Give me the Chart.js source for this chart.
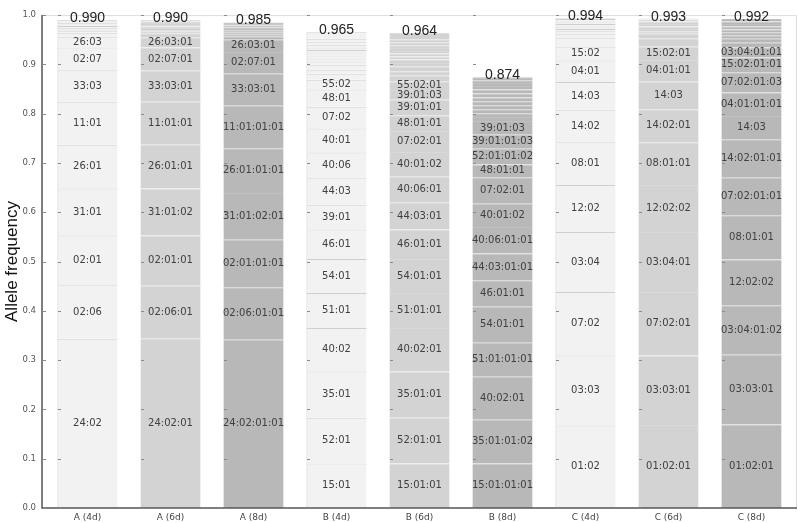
<!DOCTYPE html>
<html>
<head>
<meta charset="utf-8">
<script src="https://cdn.jsdelivr.net/npm/chart.js@4/dist/chart.umd.min.js"></script>
<style>
  html, body { margin: 0; padding: 0; background: #fff; }
  #wrap { width: 798px; height: 523px; }
</style>
</head>
<body>
<div id="wrap"><canvas id="chart"></canvas></div>
<script>
const categories = ["A (4d)", "A (6d)", "A (8d)", "B (4d)", "B (6d)", "B (8d)", "C (4d)", "C (6d)", "C (8d)"]
const totals = ["0.990", "0.990", "0.985", "0.965", "0.964", "0.874", "0.994", "0.993", "0.992"]

// segment frequencies per bar, bottom to top (unlabelled rare alleles at the end)
const a4Values = [0.343, 0.109, 0.101, 0.095, 0.089, 0.087, 0.064, 0.046, 0.021, 0.009, 0.003, 0.004, 0.003, 0.004, 0.003, 0.003, 0.003, 0.003]
const a4Alleles = ["24:02", "02:06", "02:01", "31:01", "26:01", "11:01", "33:03", "02:07", "26:03"]
const a6Values = [0.343, 0.108, 0.102, 0.095, 0.089, 0.087, 0.063, 0.047, 0.021, 0.008, 0.004, 0.003, 0.004, 0.003, 0.003, 0.004, 0.003, 0.003]
const a6Alleles = ["24:02:01", "02:06:01", "02:01:01", "31:01:02", "26:01:01", "11:01:01", "33:03:01", "02:07:01", "26:03:01"]
const a8Values = [0.341, 0.107, 0.096, 0.095, 0.091, 0.086, 0.065, 0.044, 0.025, 0.007, 0.004, 0.004, 0.003, 0.004, 0.003, 0.004, 0.003, 0.003]
const a8Alleles = ["24:02:01:01", "02:06:01:01", "02:01:01:01", "31:01:02:01", "26:01:01:01", "11:01:01:01", "33:03:01", "02:07:01", "26:03:01"]

const b4Values = [0.090, 0.093, 0.094, 0.088, 0.071, 0.069, 0.060, 0.050, 0.054, 0.052, 0.049, 0.044, 0.035, 0.020, 0.012, 0.008, 0.010, 0.007, 0.006, 0.006, 0.006, 0.005, 0.005, 0.006, 0.006, 0.006, 0.013]
const b4Alleles = ["15:01", "52:01", "35:01", "40:02", "51:01", "54:01", "46:01", "39:01", "44:03", "40:06", "40:01", "07:02", "48:01", "55:02"]
const b6Values = [0.090, 0.093, 0.094, 0.088, 0.071, 0.069, 0.060, 0.055, 0.052, 0.050, 0.043, 0.032, 0.031, 0.020, 0.018, 0.011, 0.009, 0.010, 0.007, 0.007, 0.006, 0.006, 0.005, 0.006, 0.006, 0.006, 0.006, 0.013]
const b6Alleles = ["15:01:01", "52:01:01", "35:01:01", "40:02:01", "51:01:01", "54:01:01", "46:01:01", "44:03:01", "40:06:01", "40:01:02", "07:02:01", "48:01:01", "39:01:01", "39:01:03", "55:02:01"]
const b8Values = [0.090, 0.089, 0.087, 0.069, 0.073, 0.054, 0.054, 0.054, 0.047, 0.054, 0.026, 0.032, 0.028, 0.028, 0.008, 0.008, 0.008, 0.008, 0.008, 0.008, 0.008, 0.008, 0.007, 0.006, 0.006, 0.006]
const b8Alleles = ["15:01:01:01", "35:01:01:02", "40:02:01", "51:01:01:01", "54:01:01", "46:01:01", "44:03:01:01", "40:06:01:01", "40:01:02", "07:02:01", "48:01:01", "52:01:01:02", "39:01:01:03", "39:01:03"]

const c4Values = [0.167, 0.142, 0.129, 0.122, 0.095, 0.087, 0.066, 0.056, 0.044, 0.027, 0.018, 0.009, 0.005, 0.005, 0.005, 0.005, 0.005, 0.005, 0.002]
const c4Alleles = ["01:02", "03:03", "07:02", "03:04", "12:02", "08:01", "14:02", "14:03", "04:01", "15:02"]
const c6Values = [0.168, 0.141, 0.129, 0.122, 0.095, 0.087, 0.067, 0.056, 0.044, 0.027, 0.017, 0.009, 0.005, 0.005, 0.005, 0.005, 0.005, 0.004, 0.002]
const c6Alleles = ["01:02:01", "03:03:01", "07:02:01", "03:04:01", "12:02:02", "08:01:01", "14:02:01", "14:03", "04:01:01", "15:02:01"]
const c8Values = [0.169, 0.142, 0.100, 0.093, 0.090, 0.076, 0.078, 0.047, 0.048, 0.041, 0.030, 0.020, 0.010, 0.008, 0.007, 0.006, 0.006, 0.006, 0.005, 0.005, 0.005]
const c8Alleles = ["01:02:01", "03:03:01", "03:04:01:02", "12:02:02", "08:01:01", "07:02:01:01", "14:02:01:01", "14:03", "04:01:01:01", "07:02:01:03", "15:02:01:01", "03:04:01:01"]

const yTicks = [0.0, 0.1, 0.2, 0.3, 0.4, 0.5, 0.6, 0.7, 0.8, 0.9, 1.0]

const barValues = [a4Values, a6Values, a8Values, b4Values, b6Values, b8Values, c4Values, c6Values, c8Values]
const barAlleles = [a4Alleles, a6Alleles, a8Alleles, b4Alleles, b6Alleles, b8Alleles, c4Alleles, c6Alleles, c8Alleles]

// 4d / 6d / 8d shades
const fills = ["#f2f2f2", "#d3d3d3", "#b8b8b8"]
const edges = ["#cfcfcf", "#d9d9d9", "#c1c1c1"]

// frame positions (axis lines sit a little outside the bar area)
const AXIS_X = 42
const FRAME_RIGHT = 796

const maxSegments = Math.max(...barValues.map(v => v.length))
const datasets = []
for (let k = 0; k < maxSegments; k++) {
  datasets.push({
    data: barValues.map(v => (k < v.length ? v[k] : null)),
    alleles: barAlleles.map(a => a[k] || ""),
    backgroundColor: ctx => fills[ctx.dataIndex % 3],
    borderColor: ctx => edges[ctx.dataIndex % 3],
    borderWidth: ctx => ({ top: 1, left: ctx.dataIndex % 3 === 0 ? 1 : 0, right: 0, bottom: 0 }),
    borderSkipped: false,
    barPercentage: 0.725,
    categoryPercentage: 1.0
  })
}

const frameAndLabels = {
  id: "frameAndLabels",
  beforeDatasetsDraw(chart) {
    const { ctx, chartArea: a } = chart
    ctx.save()
    ctx.strokeStyle = "#dcdcdc"
    ctx.lineWidth = 1
    ctx.beginPath()
    ctx.moveTo(AXIS_X, a.top + 0.5)
    ctx.lineTo(FRAME_RIGHT + 0.5, a.top + 0.5)
    ctx.lineTo(FRAME_RIGHT + 0.5, a.bottom)
    ctx.stroke()
    ctx.restore()
  },
  afterDatasetsDraw(chart) {
    const { ctx, chartArea: a } = chart
    const y = chart.scales.y
    ctx.save()

    // axis lines
    ctx.strokeStyle = "#555"
    ctx.lineWidth = 1.5
    ctx.beginPath()
    ctx.moveTo(AXIS_X, a.top)
    ctx.lineTo(AXIS_X, a.bottom)
    ctx.lineTo(FRAME_RIGHT + 1, a.bottom)
    ctx.stroke()

    // allele names inside the segments
    ctx.font = "10px 'DejaVu Sans'"
    ctx.fillStyle = "#404040"
    ctx.textAlign = "center"
    ctx.textBaseline = "middle"
    chart.data.datasets.forEach((ds, i) => {
      chart.getDatasetMeta(i).data.forEach((bar, j) => {
        const name = ds.alleles[j]
        if (!name || ds.data[j] == null) return
        ctx.fillText(name, bar.x, (bar.y + bar.base) / 2)
      })
    })

    // little tick marks at each bar edge and on the axis
    ctx.strokeStyle = "#8a8a8a"
    ctx.lineWidth = 1
    const edgesX = chart.getDatasetMeta(0).data.map(bar => Math.round(bar.x - bar.width / 2) + 1)
    edgesX.push(AXIS_X + 1)
    edgesX.forEach(left => {
      yTicks.forEach(t => {
        const py = Math.round(y.getPixelForValue(t)) + 0.5
        ctx.beginPath()
        ctx.moveTo(left, py)
        ctx.lineTo(left + 3, py)
        ctx.stroke()
      })
    })

    // totals above the bars
    ctx.font = "14px 'Liberation Sans', Arial, sans-serif"
    ctx.fillStyle = "#222"
    ctx.textBaseline = "alphabetic"
    chart.getDatasetMeta(0).data.forEach((bar, j) => {
      const sum = barValues[j].reduce((s, v) => s + v, 0)
      ctx.fillText(totals[j], bar.x, y.getPixelForValue(sum) + 2)
    })
    ctx.restore()
  }
}

new Chart(document.getElementById("chart"), {
  type: "bar",
  data: { labels: categories, datasets },
  plugins: [frameAndLabels],
  options: {
    responsive: true,
    maintainAspectRatio: false,
    animation: false,
    layout: { padding: { top: 6, right: 5, left: 4, bottom: 0 } },
    plugins: {
      legend: { display: false },
      tooltip: { enabled: false }
    },
    scales: {
      x: {
        stacked: true,
        offset: true,
        grid: { display: false, drawTicks: false },
        border: { display: false },
        ticks: { color: "#444", font: { family: "DejaVu Sans", size: 9 }, padding: 4 },
        afterFit: s => { s.height = 15 }
      },
      y: {
        stacked: true,
        min: 0,
        max: 1,
        grid: { display: false, drawTicks: false },
        border: { display: false },
        ticks: {
          stepSize: 0.1,
          color: "#555",
          padding: 10,
          font: { family: "DejaVu Sans", size: 8.5 },
          callback: v => Number(v).toFixed(1)
        },
        title: {
          display: true,
          text: "Allele frequency",
          color: "#111",
          font: { family: "'Liberation Sans', Arial, sans-serif", size: 17 },
          padding: { top: -2, bottom: 0 }
        },
        afterFit: s => { s.width = 42 }
      }
    }
  }
})
</script>
</body>
</html>
